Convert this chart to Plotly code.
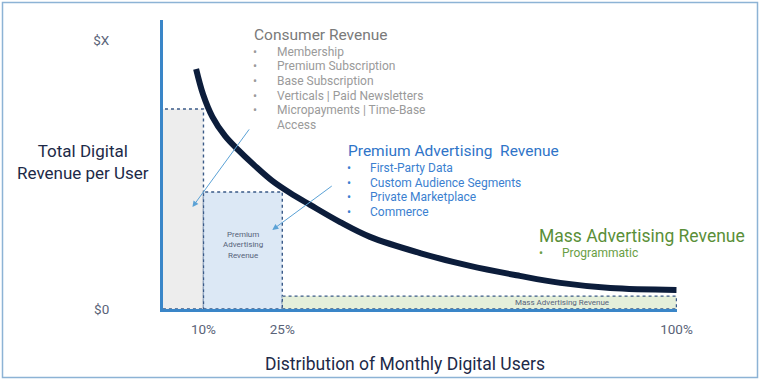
import plotly.graph_objects as go

# ---------------- data ----------------
curve_x = [8.6, 9.95, 11.7, 14.1, 16.4, 19.8, 23.1, 26.5, 30.3, 36.0, 41.7, 51.2, 60.7, 70.2, 77.9, 87.4, 100]
curve_y = [89.2, 79.6, 71.4, 64.3, 59.5, 53.2, 47.6, 43.1, 38.7, 32.3, 26.8, 20.8, 16.0, 12.3, 9.7, 7.8, 7.1]

seg_names = ["Consumer Revenue", "Premium Advertising Revenue", "Mass Advertising Revenue"]
seg_start = [0, 10, 25]
seg_end = [10, 25, 100]
seg_height = [74.3, 43.5, 4.8]

x_tick_vals = [10, 25, 100]
x_tick_text = ["10%", "25%", "100%"]
y_tick_vals = [0, 100]
y_tick_text = ["$0", "$X"]

consumer_items = ["Membership", "Premium Subscription", "Base Subscription",
                  "Verticals | Paid Newsletters", "Micropayments | Time-Base"]
premium_items = ["First-Party Data", "Custom Audience Segments", "Private Marketplace", "Commerce"]
mass_items = ["Programmatic"]

# arrows: (tail_x, tail_y) -> (head_x, head_y) in data units
arrow_tail_x = [18.9, 34.7]
arrow_tail_y = [67.3, 46.1]
arrow_head_x = [7.9, 23.1]
arrow_head_y = [37.9, 29.4]

# ---------------- layout helpers ----------------
W, H = 760, 380
L, R, T, B = 163, 677, 20, 309  # plot area pixel edges
X_RANGE = [2.3, 100.1]
Y_RANGE = [0, 107.4]
FONT = "Roboto"


def px(x):
    return (x - L) / (R - L)


def py(y):
    return (B - y) / (B - T)


fig = go.Figure()

fills = ["#ededed", "#dce8f5", "#e5efda"]
shapes = []
for s, e, h, c in zip(seg_start, seg_end, seg_height, fills):
    shapes.append(dict(type="rect", xref="x", yref="y", x0=s, x1=e, y0=0, y1=h,
                       fillcolor=c, line=dict(color="#3a5a88", width=1.4, dash="dot"),
                       layer="below"))
# outer frame
shapes.append(dict(type="rect", xref="paper", yref="paper",
                   x0=px(2.5), x1=px(757.5), y0=py(377.5), y1=py(2.5),
                   line=dict(color="#8db3d5", width=1.5), fillcolor="rgba(0,0,0,0)"))

fig.add_trace(go.Scatter(x=curve_x, y=curve_y, mode="lines",
                         line=dict(color="#0c1d3b", width=6, shape="spline", smoothing=1.0),
                         hoverinfo="skip", showlegend=False, cliponaxis=False))

ann = []


def text(x, y, t, size, color, anchor="left"):
    ann.append(dict(xref="paper", yref="paper", x=px(x), y=py(y), text=t, showarrow=False,
                    xanchor=anchor, yanchor="middle",
                    font=dict(family=FONT, size=size, color=color)))


# Consumer block
text(252, 35, "Consumer Revenue", 15.5, "#7a7a7a")
cy = [52, 66, 81, 96, 110]
for yy, t in zip(cy, consumer_items):
    text(251, yy, "•", 12, "#9a9a9a")
    text(275, yy, t, 12, "#9a9a9a")
text(275, 125, "Access", 12, "#9a9a9a")

# Premium block
text(346, 151, "Premium Advertising  Revenue", 15.5, "#2f74c8")
py_list = [168, 183, 197, 212]
for yy, t in zip(py_list, premium_items):
    text(345, yy, "•", 12, "#3b7fd0")
    text(368, yy, t, 12, "#3b7fd0")

# Mass block
text(537, 236, "Mass Advertising Revenue", 17.5, "#5a8f38")
for yy, t in zip([253], mass_items):
    text(537, yy, "•", 12, "#6a9e45")
    text(560, yy, t, 12, "#6a9e45")

# box labels
text(243, 245, "Premium<br>Advertising<br>Revenue", 8, "#56637a", anchor="center")
text(562, 302, "Mass Advertising Revenue", 8, "#56637a", anchor="center")

# axis titles
text(83, 162, "Total Digital<br>Revenue per User", 17, "#1d2a48", anchor="center")
text(405, 364, "Distribution of Monthly Digital Users", 17.5, "#1d2a48", anchor="center")

# arrows
for tx, ty, hx, hy in zip(arrow_tail_x, arrow_tail_y, arrow_head_x, arrow_head_y):
    ann.append(dict(xref="x", yref="y", axref="x", ayref="y", x=hx, y=hy, ax=tx, ay=ty,
                    text="", showarrow=True, arrowhead=2, arrowsize=1.2, arrowwidth=1,
                    arrowcolor="#5ba2d6"))

fig.update_layout(
    width=W, height=H, autosize=False,
    margin=dict(l=L, r=W - R, t=T, b=H - B, pad=0),
    paper_bgcolor="white", plot_bgcolor="white",
    shapes=shapes, annotations=ann, showlegend=False,
    font=dict(family=FONT),
    xaxis=dict(range=X_RANGE, showgrid=False, zeroline=False, showline=True,
               linecolor="#3a86c8", linewidth=3, tickvals=x_tick_vals, ticktext=x_tick_text,
               ticks="", ticklabelstandoff=6,
               tickfont=dict(family=FONT, size=13.5, color="#5a6378"), fixedrange=True),
    yaxis=dict(range=Y_RANGE, showgrid=False, zeroline=False, showline=True,
               linecolor="#3a86c8", linewidth=3, tickvals=y_tick_vals, ticktext=y_tick_text,
               ticks="", ticklabelstandoff=48,
               tickfont=dict(family=FONT, size=13.5, color="#5a6378"), fixedrange=True),
)

fig.write_html("out.html", config={"displayModeBar": False},
               post_script="document.body.style.margin='0';document.body.style.overflow='hidden';")
